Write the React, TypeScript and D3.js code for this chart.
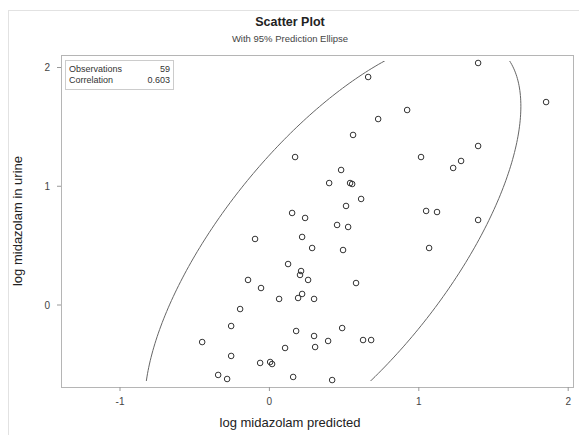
import React from "react";
import * as d3 from "d3";

const xVals = [1.397, 0.661, 1.852, 0.922, 0.728, 0.56, 1.397, 0.172, 1.015, 1.283,
  1.23, 0.48, 0.4, 0.54, 0.554, 0.614, 0.513, 0.152, 0.239, 1.049,
  1.122, 0.453, 0.527, 1.397, 0.219, -0.096, 0.286, 0.493, 1.069, 0.125,
  0.212, 0.205, -0.143, 0.259, 0.58, -0.056, 0.065, 0.192, 0.219, 0.299,
  -0.196, -0.256, 0.179, 0.487, 0.299, 0.393, 0.306, 0.627, 0.681, -0.45,
  0.105, -0.256, -0.062, 0.005, 0.018, -0.343, -0.283, 0.159, 0.42];
const yVals = [2.038, 1.92, 1.709, 1.642, 1.566, 1.432, 1.339, 1.246, 1.246, 1.213,
  1.154, 1.137, 1.027, 1.027, 1.019, 0.893, 0.834, 0.775, 0.733, 0.792,
  0.783, 0.674, 0.657, 0.716, 0.573, 0.556, 0.48, 0.463, 0.48, 0.345,
  0.286, 0.253, 0.211, 0.211, 0.185, 0.143, 0.051, 0.059, 0.093, 0.051,
  -0.034, -0.177, -0.219, -0.194, -0.261, -0.303, -0.354, -0.295, -0.295, -0.312,
  -0.362, -0.429, -0.488, -0.48, -0.497, -0.589, -0.623, -0.606, -0.632];

const xTicks = [-1, 0, 1, 2];
const yTicks = [0, 1, 2];
const statLabels = ["Observations", "Correlation"];
const statValues = ["59", "0.603"];
const fQuantile = 3.16; // F(0.95; 2, n-2)

const W = 579, H = 435;
const frame = { l: 61, r: 573, t: 55, b: 387 };

export default function App() {
  const x = d3.scaleLinear().domain([-1, 2]).range([120, 568.2]);
  const y = d3.scaleLinear().domain([0, 2]).range([305, 67.5]);

  const n = xVals.length;
  const mx = d3.mean(xVals)!;
  const my = d3.mean(yVals)!;
  let sxx = 0, syy = 0, sxy = 0;
  for (let i = 0; i < n; i++) {
    sxx += (xVals[i] - mx) ** 2;
    syy += (yVals[i] - my) ** 2;
    sxy += (xVals[i] - mx) * (yVals[i] - my);
  }
  sxx /= n - 1; syy /= n - 1; sxy /= n - 1;
  const c = Math.sqrt((2 * (n + 1) * (n - 1)) / (n * (n - 2)) * fQuantile);
  const l11 = Math.sqrt(sxx);
  const l21 = sxy / l11;
  const l22 = Math.sqrt(syy - l21 * l21);
  const ellPts: [number, number][] = d3.range(0, 361).map((deg) => {
    const t = (deg * Math.PI) / 180;
    const u = Math.cos(t), v = Math.sin(t);
    return [mx + c * l11 * u, my + c * (l21 * u + l22 * v)];
  });
  const line = d3.line<[number, number]>().x((d) => x(d[0])).y((d) => y(d[1]));

  const font = "'Liberation Sans', Arial, sans-serif";

  return (
    <svg width={W} height={H} style={{ position: "absolute", left: 0, top: 0, background: "#fff" }} fontFamily={font}>
      <defs>
        <clipPath id="clip">
          <rect x={frame.l} y={61} width={frame.r - frame.l} height={381 - 61} />
        </clipPath>
      </defs>
      <rect x={8.5} y={10.5} width={W} height={H} fill="none" stroke="#e2e2e2" />
      <text x={290} y={26} textAnchor="middle" fontSize={12.5} fontWeight="bold" fill="#222">Scatter Plot</text>
      <text x={290} y={42} textAnchor="middle" fontSize={9.5} fill="#444">With 95% Prediction Ellipse</text>

      <rect x={frame.l + 0.5} y={frame.t + 0.5} width={frame.r - frame.l} height={frame.b - frame.t} fill="none" stroke="#b5b5b5" />

      {xTicks.map((t) => (
        <g key={"x" + t}>
          <line x1={x(t)} x2={x(t)} y1={frame.b} y2={frame.b + 4} stroke="#999" />
          <text x={x(t)} y={frame.b + 18} textAnchor="middle" fontSize={10} fill="#444">{t}</text>
        </g>
      ))}
      {yTicks.map((t) => (
        <g key={"y" + t}>
          <line x1={frame.l - 4} x2={frame.l} y1={y(t)} y2={y(t)} stroke="#999" />
          <text x={frame.l - 11} y={y(t) + 3.5} textAnchor="end" fontSize={10} fill="#444">{t}</text>
        </g>
      ))}

      <text x={290} y={427} textAnchor="middle" fontSize={13} fill="#222">log midazolam predicted</text>
      <text transform={`translate(22,${221}) rotate(-90)`} textAnchor="middle" fontSize={13} fill="#222">log midazolam in urine</text>

      <path d={line(ellPts) || ""} fill="none" stroke="#666" strokeWidth={1} clipPath="url(#clip)" />

      {xVals.map((v, i) => (
        <circle key={i} cx={x(v)} cy={y(yVals[i])} r={2.8} fill="none" stroke="#333" strokeWidth={1} />
      ))}

      <rect x={65.5} y={60.5} width={108} height={29} fill="#fff" stroke="#ccc" />
      {statLabels.map((s, i) => (
        <g key={s}>
          <text x={69} y={72 + i * 11} fontSize={9} fill="#333">{s}</text>
          <text x={170} y={72 + i * 11} textAnchor="end" fontSize={9} fill="#333">{statValues[i]}</text>
        </g>
      ))}
    </svg>
  );
}
